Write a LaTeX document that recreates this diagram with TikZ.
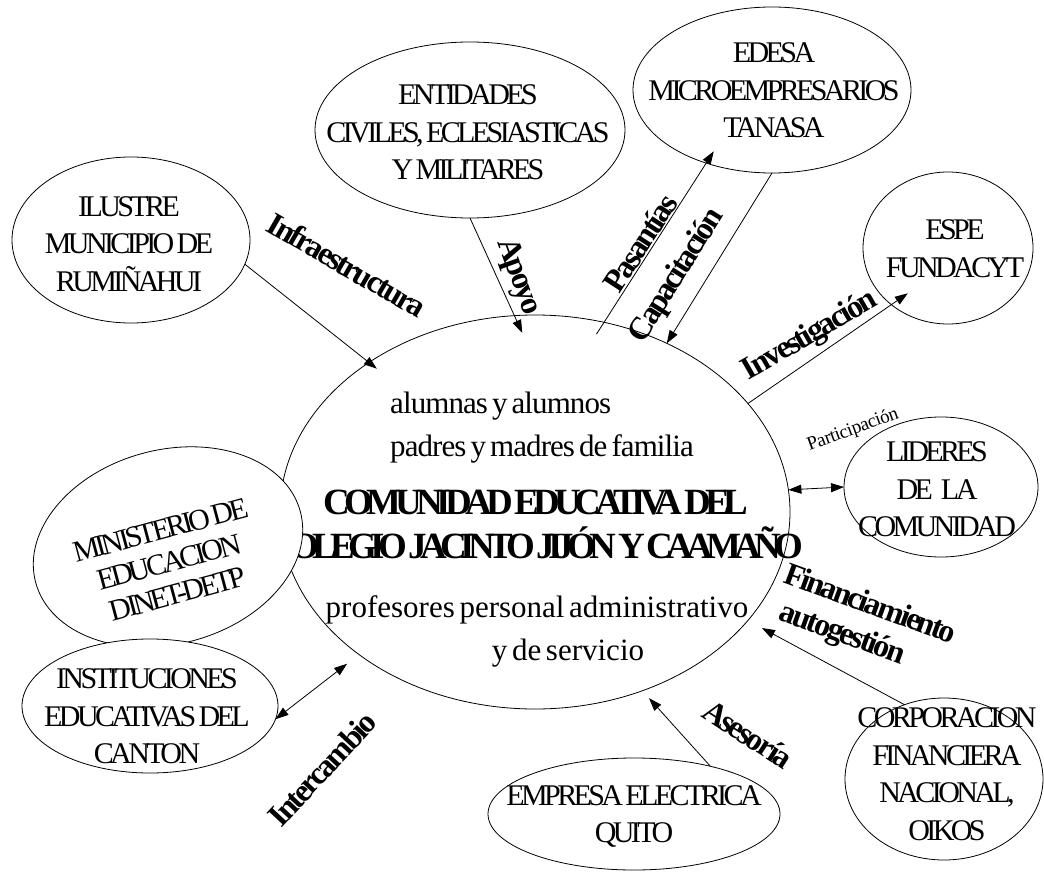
\documentclass[tikz,border=0pt]{standalone}
\usepackage{fontspec}
\setmainfont{Liberation Serif}[WordSpace=0.6]
\usetikzlibrary{shapes.geometric,arrows.meta}
\newcommand{\dgCap}{\fontsize{30}{37.5}\selectfont\addfontfeatures{LetterSpace=-12}}
\newcommand{\dgMin}{\fontsize{30}{33}\selectfont\addfontfeatures{LetterSpace=-12}}
\newcommand{\dgReg}{\fontsize{31}{36}\selectfont\addfontfeatures{LetterSpace=-3}}
\newcommand{\dgRegW}{\fontsize{31}{36}\selectfont\addfontfeatures{LetterSpace=0}}
\newcommand{\dgBold}{\fontsize{37}{44}\selectfont\bfseries\addfontfeatures{LetterSpace=-16.5}}
\newcommand{\dgBoldN}{\fontsize{37}{44}\selectfont\bfseries\addfontfeatures{LetterSpace=-18}}
\newcommand{\dgLbl}{\fontsize{32}{38}\selectfont\bfseries\addfontfeatures{LetterSpace=-8}}
\newcommand{\dgSmall}{\fontsize{19}{22}\selectfont\addfontfeatures{LetterSpace=-2}}
\tikzset{
  ell/.style={draw, ellipse, line width=0.8pt, inner sep=0pt, outer sep=0pt, fill=white},
  etxt/.style={align=center, inner sep=0pt, font=\dgCap},
  ctr/.style={inner sep=0pt, font=\dgReg},
  cbold/.style={inner sep=0pt, font=\dgBold},
  lbl/.style={inner sep=0pt, font=\dgLbl},
  plbl/.style={inner sep=0pt, font=\dgSmall},
  arr/.style={line width=0.8pt, -{Triangle[length=13pt,width=9pt]}},
  darr/.style={line width=0.8pt, {Triangle[length=13pt,width=9pt]}-{Triangle[length=13pt,width=9pt]}},
}
\begin{document}
\begin{tikzpicture}[x=1pt,y=-1pt]
\useasboundingbox[fill=white] (0,0) rectangle (1044,872);
% central
\node[ell, minimum width=510pt, minimum height=394pt] (com) at (535,512) {};
\node[ctr, anchor=base west] (t1) at (390,413) {alumnas y alumnos};
\node[ctr, anchor=base west] (t2) at (390,456) {padres y madres de familia};
\node[cbold, anchor=base] (t3) at (536,514) {COMUNIDAD EDUCATIVA DEL};
\node[cbold, font=\dgBoldN, anchor=base east] (t4) at (804,558) {COLEGIO JACINTO JIJÓN Y CAAMAÑO};
\node[ctr, font=\dgRegW, anchor=base] (t5) at (537,617) {profesores personal administrativo};
\node[ctr, font=\dgRegW, anchor=base] (t6) at (568,660) {y de servicio};
% satellites
\node[ell, minimum width=238pt, minimum height=166pt] (ilu) at (131,240) {};
\node[etxt] (iluT) at (129,244) {ILUSTRE\\MUNICIPIO DE\\RUMIÑAHUI};
\node[ell, minimum width=310pt, minimum height=176pt] (ent) at (470,130) {};
\node[etxt] (entT) at (468,132.5) {ENTIDADES\\CIVILES, ECLESIASTICAS\\Y MILITARES};
\node[ell, minimum width=278pt, minimum height=166pt] (ede) at (772,90) {};
\node[etxt] (edeT) at (774,90.5) {EDESA\\MICROEMPRESARIOS\\TANASA};
\node[ell, minimum width=170pt, minimum height=152pt] (esp) at (948,248) {};
\node[etxt] (espT) at (955,248.5) {ESPE\\FUNDACYT};
\node[ell, minimum width=194pt, minimum height=140pt] (lid) at (941,487) {};
\node[etxt] (lidT) at (937,489.5) {LIDERES\\DE\hspace{8pt}LA\\COMUNIDAD};
\node[ell, minimum width=198pt, minimum height=162pt] (cor) at (944,779) {};
\node[etxt] (corT) at (947,774) {CORPORACION\\FINANCIERA\\NACIONAL,\\OIKOS};
\node[ell, minimum width=292pt, minimum height=112pt] (emp) at (634,814) {};
\node[etxt] (empT) at (634,816.5) {EMPRESA ELECTRICA\\QUITO};
\node[ell, rotate=15, minimum width=274pt, minimum height=194pt] (min) at (168,547) {};
\node[etxt, font=\dgMin, rotate=15] (minT) at (169,562) {MINISTERIO DE\\EDUCACION\\DINET-DETP};
\node[ell, minimum width=256pt, minimum height=134pt] (ins) at (150,706) {};
\node[etxt] (insT) at (147,716.5) {INSTITUCIONES\\EDUCATIVAS DEL\\CANTON};
% connectors
\draw[arr, shorten >=-10pt] (ilu.-12) -- (com.138);
\draw[arr, shorten >=-19pt] (ent.south) -- (com.96);
\draw[arr, shorten <=-14pt, shorten >=-14pt] (com.70) -- (ede.-132);
\draw[arr] (ede.south) -- (com.52);
\draw[arr, shorten >=-20pt] (com.27) -- (esp.-135);
\draw[darr] (com.5) -- (lid.west);
\draw[arr, shorten >=16pt] (cor.118) -- (com.-27);
\draw[arr, shorten >=10pt] (emp.32) -- (com.-59);
\draw[darr, shorten >=15pt] (ins.-6) -- (com.-141);
% labels
\node[lbl, rotate=-30] (lInf) at (347,265) {Infraestructura};
\node[lbl, rotate=-70] (lApo) at (518,277) {Apoyo};
\node[lbl, rotate=57] (lPas) at (640,243) {Pasantías};
\node[lbl, rotate=58] (lCap) at (677,276) {Capacitación};
\node[lbl, rotate=30] (lInv) at (810,336) {Investigación};
\node[plbl, rotate=20] (lPar) at (853,430) {Participación};
\node[lbl, rotate=-20] (lFin) at (871,603) {Financiamiento};
\node[lbl, rotate=-20] (lAut) at (842,635) {autogestión};
\node[lbl, rotate=-33] (lAse) at (748,734) {Asesoría};
\node[lbl, rotate=47] (lInt) at (322,769) {Intercambio};
\end{tikzpicture}
\end{document}
